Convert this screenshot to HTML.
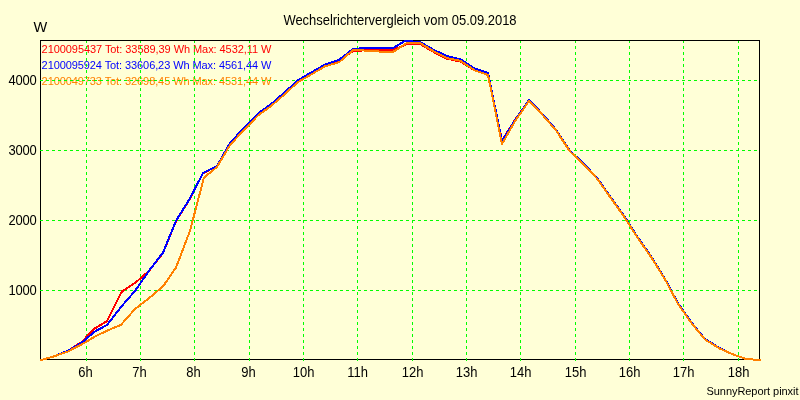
<!DOCTYPE html>
<html><head><meta charset="utf-8"><title>Wechselrichtervergleich</title>
<style>
html,body{margin:0;padding:0;background:#FFFFD7;}
body{width:800px;height:400px;overflow:hidden;position:relative;font-family:"Liberation Sans",sans-serif;}
svg{position:absolute;left:0;top:0;display:block;will-change:transform}
text{font-family:"Liberation Sans",sans-serif;}
.t13{font-size:13px;fill:#000}
.t11{font-size:11px}
</style></head><body>
<svg width="800" height="400" viewBox="0 0 800 400">
<rect x="0" y="0" width="800" height="400" fill="#FFFFD7"/>
<text class="t13" transform="translate(283.4,25) scale(1,1.1)" textLength="233.2" lengthAdjust="spacing">Wechselrichtervergleich vom 05.09.2018</text>
<text class="t13" transform="translate(33.6,32) scale(1.12,1.1)">W</text>
<text class="t11" x="41.6" y="53" fill="#FF0000" textLength="229.8" lengthAdjust="spacing">2100095437 Tot: 33589,39 Wh Max: 4532,11 W</text>
<text class="t11" x="41.6" y="69" fill="#0000FF" textLength="229.8" lengthAdjust="spacing">2100095924 Tot: 33606,23 Wh Max: 4561,44 W</text>
<text class="t11" x="41.6" y="85" fill="#FF8000" textLength="229.8" lengthAdjust="spacing">2100049733 Tot: 32698,45 Wh Max: 4531,44 W</text>

<text class="t13" transform="translate(36.8,85) scale(1,1.1)" text-anchor="end" textLength="28.3" lengthAdjust="spacing">4000</text>
<text class="t13" transform="translate(36.8,155) scale(1,1.1)" text-anchor="end" textLength="28.3" lengthAdjust="spacing">3000</text>
<text class="t13" transform="translate(36.8,225) scale(1,1.1)" text-anchor="end" textLength="28.3" lengthAdjust="spacing">2000</text>
<text class="t13" transform="translate(36.8,295) scale(1,1.1)" text-anchor="end" textLength="28.3" lengthAdjust="spacing">1000</text>
<text class="t13" transform="translate(85.4,377) scale(1,1.1)" text-anchor="middle">6h</text>
<text class="t13" transform="translate(139.4,377) scale(1,1.1)" text-anchor="middle">7h</text>
<text class="t13" transform="translate(193.4,377) scale(1,1.1)" text-anchor="middle">8h</text>
<text class="t13" transform="translate(248.4,377) scale(1,1.1)" text-anchor="middle">9h</text>
<text class="t13" transform="translate(303.6,377) scale(1,1.1)" text-anchor="middle">10h</text>
<text class="t13" transform="translate(357.6,377) scale(1,1.1)" text-anchor="middle">11h</text>
<text class="t13" transform="translate(412.6,377) scale(1,1.1)" text-anchor="middle">12h</text>
<text class="t13" transform="translate(466.6,377) scale(1,1.1)" text-anchor="middle">13h</text>
<text class="t13" transform="translate(520.6,377) scale(1,1.1)" text-anchor="middle">14h</text>
<text class="t13" transform="translate(575.6,377) scale(1,1.1)" text-anchor="middle">15h</text>
<text class="t13" transform="translate(629.6,377) scale(1,1.1)" text-anchor="middle">16h</text>
<text class="t13" transform="translate(683.6,377) scale(1,1.1)" text-anchor="middle">17h</text>
<text class="t13" transform="translate(738.6,377) scale(1,1.1)" text-anchor="middle">18h</text>
<text class="t11" x="706.5" y="395" fill="#000" textLength="92" lengthAdjust="spacing">SunnyReport pinxit</text>
<g shape-rendering="crispEdges" fill="none">
<rect x="40.5" y="40.5" width="719" height="319" stroke="#000" stroke-width="1"/>
<g stroke="#00FF00" stroke-width="1" stroke-dasharray="3 3">
<line x1="40" y1="80.5" x2="759" y2="80.5"/>
<line x1="40" y1="150.5" x2="759" y2="150.5"/>
<line x1="40" y1="220.5" x2="759" y2="220.5"/>
<line x1="40" y1="290.5" x2="759" y2="290.5"/>
<line x1="86.5" y1="40" x2="86.5" y2="361"/>
<line x1="140.5" y1="40" x2="140.5" y2="361"/>
<line x1="194.5" y1="40" x2="194.5" y2="361"/>
<line x1="249.5" y1="40" x2="249.5" y2="361"/>
<line x1="303.5" y1="40" x2="303.5" y2="361"/>
<line x1="357.5" y1="40" x2="357.5" y2="361"/>
<line x1="412.5" y1="40" x2="412.5" y2="361"/>
<line x1="466.5" y1="40" x2="466.5" y2="361"/>
<line x1="520.5" y1="40" x2="520.5" y2="361"/>
<line x1="575.5" y1="40" x2="575.5" y2="361"/>
<line x1="629.5" y1="40" x2="629.5" y2="361"/>
<line x1="683.5" y1="40" x2="683.5" y2="361"/>
<line x1="738.5" y1="40" x2="738.5" y2="361"/>
</g>
<line x1="40" y1="40.5" x2="760" y2="40.5" stroke="#000" stroke-width="1"/>
<polyline points="41.0,360.0 54.0,356.4 68.0,350.7 81.0,342.5 95.0,328.3 107.0,321.2 122.0,291.3 135.0,283.0 149.0,270.9 163.0,253.0 176.0,221.2 190.0,198.6 203.0,173.3 217.0,166.0 230.0,143.0 244.0,127.8 258.0,113.5 271.0,104.2 285.0,92.0 298.0,80.2 312.0,72.0 325.0,65.5 339.0,61.2 353.0,51.0 366.0,50.3 380.0,50.0 393.0,50.0 407.0,44.0 420.0,44.0 434.0,52.2 447.0,58.7 461.0,61.8 475.0,70.5 488.0,75.0 502.0,140.5 515.0,119.9 529.0,100.3 542.0,113.8 556.0,130.0 570.0,151.0 583.0,163.3 597.0,178.0 610.0,196.5 624.0,216.0 637.0,236.5 651.0,256.5 665.0,279.0 678.0,303.4 692.0,323.4 705.0,339.2 719.0,347.9 732.0,354.0 746.0,359.0 760.0,360.0" stroke="#FF0000" stroke-width="2" stroke-linejoin="round" stroke-linecap="square"/>
<polyline points="41.0,360.0 54.0,356.4 68.0,350.7 81.0,343.2 95.0,331.4 107.0,325.0 122.0,305.8 135.0,291.0 149.0,270.8 163.0,252.6 176.0,220.8 190.0,198.2 203.0,173.0 217.0,166.0 230.0,143.0 244.0,127.8 258.0,113.5 271.0,104.2 285.0,92.0 298.0,80.2 312.0,72.0 325.0,64.7 339.0,59.9 353.0,49.0 366.0,48.0 380.0,48.0 393.0,48.0 405.0,41.0 420.0,42.0 434.0,50.0 447.0,56.0 461.0,59.6 475.0,68.7 488.0,73.0 502.0,141.0 515.0,120.3 529.0,100.0 542.0,113.5 556.0,129.7 570.0,150.8 583.0,163.0 597.0,177.8 610.0,196.2 624.0,215.8 637.0,236.2 651.0,256.2 665.0,278.8 678.0,303.2 692.0,323.2 705.0,339.0 719.0,347.7 732.0,354.0 746.0,359.0 760.0,360.0" stroke="#0000FF" stroke-width="2" stroke-linejoin="round" stroke-linecap="square"/>
<polyline points="41.0,360.0 54.0,356.4 68.0,351.4 81.0,344.8 95.0,336.5 108.0,330.3 121.0,324.8 135.0,309.0 149.0,298.2 163.0,286.4 176.0,267.6 190.0,230.8 204.0,177.5 217.0,167.0 230.0,145.0 244.0,130.0 258.0,115.5 271.0,106.0 285.0,94.0 298.0,82.0 312.0,74.0 325.0,66.3 339.0,62.3 353.0,50.0 366.0,50.6 380.0,51.6 393.0,52.0 407.0,43.0 420.0,43.0 434.0,51.5 447.0,58.0 461.0,61.0 475.0,70.5 488.0,75.0 502.0,144.0 515.0,121.3 529.0,101.0 542.0,114.3 556.0,130.4 570.0,151.5 583.0,163.8 597.0,178.5 610.0,196.9 624.0,216.5 637.0,236.9 651.0,256.9 665.0,279.4 678.0,303.8 692.0,323.8 705.0,339.5 719.0,348.2 732.0,354.0 746.0,359.0 760.0,360.0" stroke="#FF8000" stroke-width="2" stroke-linejoin="round" stroke-linecap="square"/>
</g>
</svg></body></html>
